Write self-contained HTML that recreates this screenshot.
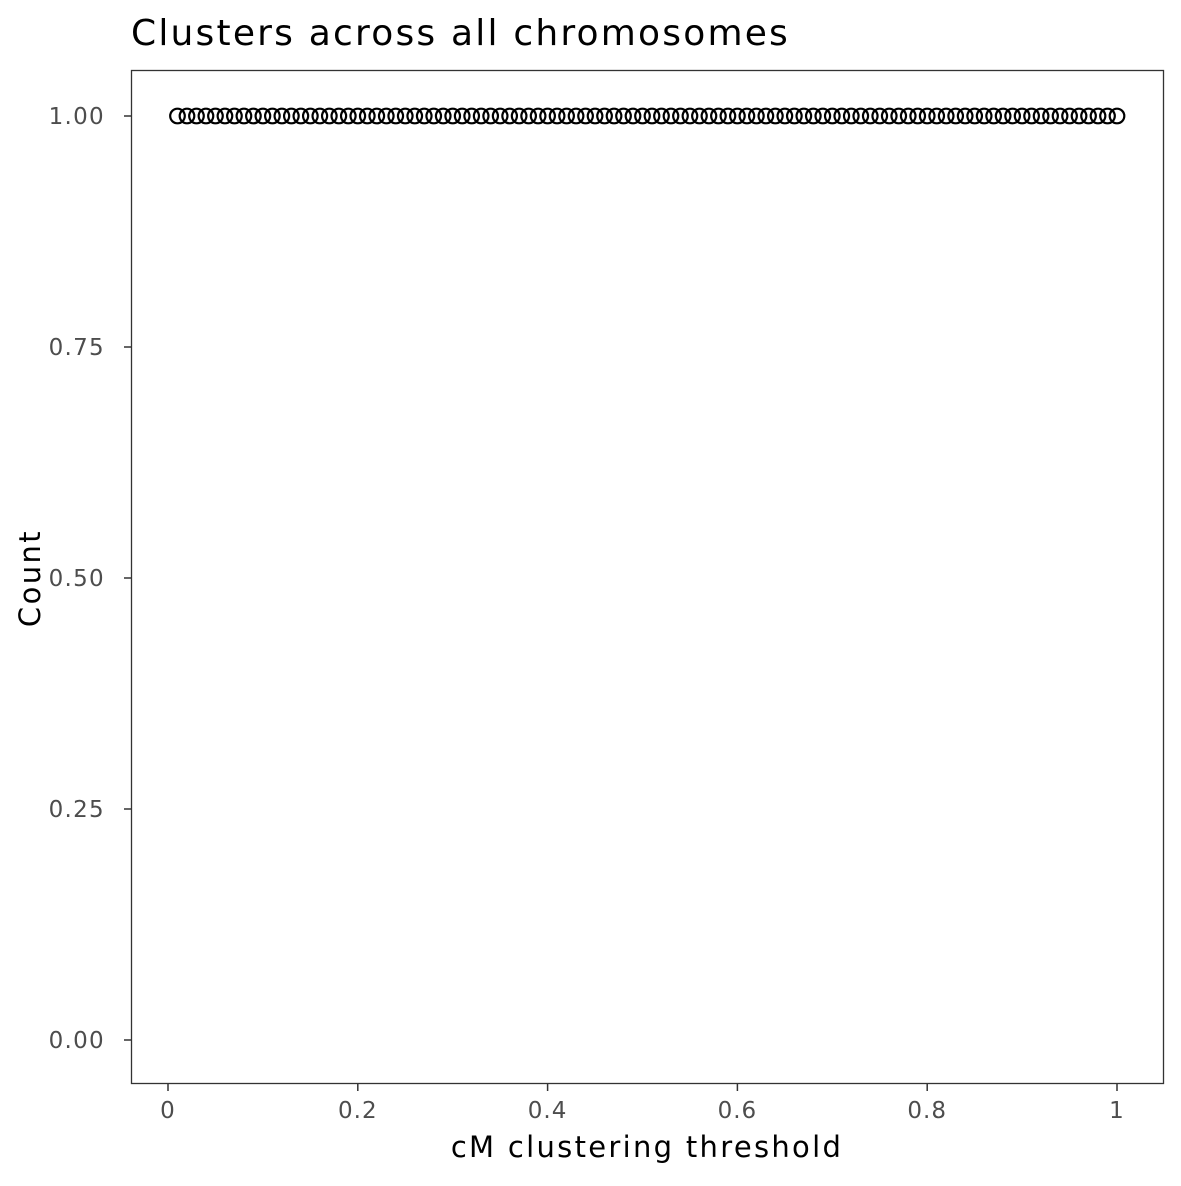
<!DOCTYPE html>
<html><head><meta charset="utf-8"><style>
body{margin:0;background:#fff}
text{font-family:"DejaVu Sans","Liberation Sans",sans-serif}
</style></head><body>
<svg id="chart" width="1181" height="1181" xmlns="http://www.w3.org/2000/svg">
<rect width="1181" height="1181" fill="#fff"/>
<text x="131" y="45" font-size="36" letter-spacing="2.2" fill="#000">Clusters across all chromosomes</text>
<rect x="131.5" y="70.5" width="1032" height="1013" fill="none" stroke="#333" stroke-width="1.3"/>
<g id="xaxis"></g>
<g id="yaxis"></g>
<g id="points"></g>
<text x="647" y="1157" font-size="29" letter-spacing="2.3" text-anchor="middle" fill="#000">cM clustering threshold</text>
<text transform="translate(40,578) rotate(-90)" font-size="29" letter-spacing="2.4" text-anchor="middle" fill="#000">Count</text>
</svg>
<script>
const xTicks=[0,0.2,0.4,0.6,0.8,1];
const xTickLabels=["0","0.2","0.4","0.6","0.8","1"];
const yTicks=[0,0.25,0.5,0.75,1];
const yTickLabels=["0.00","0.25","0.50","0.75","1.00"];
const thresholds=[];for(let i=1;i<=100;i++)thresholds.push(i/100);
const counts=[];for(let i=0;i<100;i++)counts.push(1);
const X=v=>168+v*949, Y=v=>1040-v*924;
const NS="http://www.w3.org/2000/svg";
function mk(t,a,p){const e=document.createElementNS(NS,t);for(const k in a)e.setAttribute(k,a[k]);p.appendChild(e);return e;}
const xa=document.getElementById('xaxis'),ya=document.getElementById('yaxis'),pg=document.getElementById('points');
xTicks.forEach((v,i)=>{
 const l=mk('line',{x1:X(v),x2:X(v),y1:1084,y2:1091,stroke:'#333','stroke-width':1.5},xa);
 
 
 const t=mk('text',{x:X(v),y:1118,'font-size':23,'letter-spacing':1,'text-anchor':'middle',fill:'#4d4d4d'},xa);t.textContent=xTickLabels[i];
 
 
});
yTicks.forEach((v,i)=>{
 const l=mk('line',{x1:124,x2:131,y1:Y(v),y2:Y(v),stroke:'#333','stroke-width':1.5},ya);
 
 
 const t=mk('text',{x:105,y:Y(v)+8,'font-size':23,'letter-spacing':1.3,'text-anchor':'end',fill:'#4d4d4d'},ya);t.textContent=yTickLabels[i];
 
 
});
thresholds.forEach((v,i)=>{
 const c=mk('circle',{cx:X(v),cy:Y(counts[i]),r:7.3,fill:'none',stroke:'#000','stroke-width':2.2},pg);
 
 
});
</script>
</body></html>
